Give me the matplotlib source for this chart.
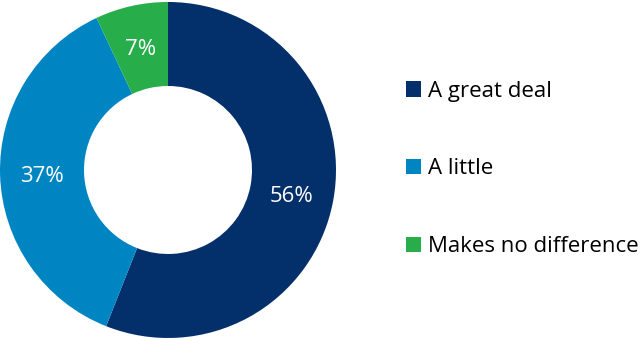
import matplotlib
matplotlib.use("Agg")
import matplotlib.pyplot as plt

plt.rcParams['font.family'] = ['Open Sans', 'DejaVu Sans']

categories = ["A great deal", "A little", "Makes no difference"]
shares = [56, 37, 7]
colors = ["#03306b", "#0085c3", "#27ae4a"]

fig = plt.figure(figsize=(6.42, 3.39), dpi=100)
ax = fig.add_axes([0.0, 0.003, 336 / 642, 336 / 339])

wedges, texts = ax.pie(
    shares,
    colors=colors,
    startangle=90,
    counterclock=False,
    radius=1.0,
    wedgeprops=dict(width=0.5, edgecolor="none"),
    labels=[f"{v}%" for v in shares],
    labeldistance=0.75,
    textprops=dict(color="white", fontsize=16, ha="center", va="center_baseline"),
)
ax.set_xlim(-1, 1)
ax.set_ylim(-1, 1)
ax.set_aspect("equal")
ax.axis("off")

fig.legend(
    wedges, categories,
    loc="center left",
    bbox_to_anchor=(406 / 642, 1 - 169 / 339),
    frameon=False,
    fontsize=16,
    borderpad=0,
    borderaxespad=0,
    handlelength=0.68,
    handleheight=0.68,
    handletextpad=0.32,
    labelspacing=2.55,
)

fig.savefig("out.png", dpi=100)
